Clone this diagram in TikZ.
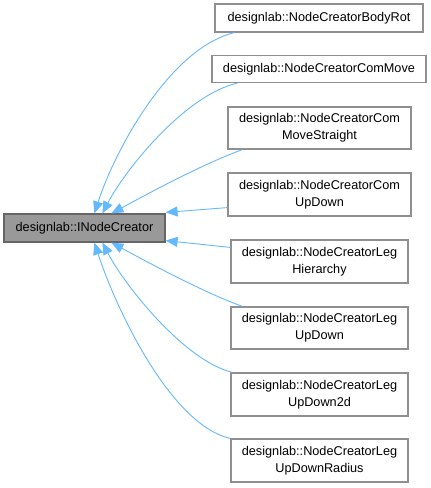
\documentclass[tikz,border=0pt]{standalone}
\usepackage{fontspec}
\setmainfont{Liberation Sans}
\usetikzlibrary{arrows.meta}
\definecolor{edgeblue}{HTML}{63B8FF}
\definecolor{mainfill}{HTML}{999999}
\definecolor{mainborder}{HTML}{666666}
\definecolor{boxborder}{HTML}{8F8F8F}
\tikzset{
  cls/.style={draw=boxborder, fill=white, line width=1.2pt, inner sep=0pt, align=center,
    font=\fontsize{12.7pt}{17pt}\selectfont},
  mainnode/.style={cls, draw=mainborder, fill=mainfill},
  edge/.style={draw=edgeblue, line width=0.9pt, -{Triangle[length=12pt,width=10pt]}}
}
\begin{document}
\begin{tikzpicture}[x=1pt,y=-1pt]
\useasboundingbox (0,0) rectangle (431,488);
\node[mainnode, minimum width=161pt, minimum height=28pt] (base) at (84.5,228) {designlab::INodeCreator};
\node[cls, minimum width=208pt, minimum height=28pt] (n1) at (319,18) {designlab::NodeCreatorBodyRot};
\node[cls, minimum width=214pt, minimum height=27pt] (n2) at (319,69) {designlab::NodeCreatorComMove};
\node[cls, minimum width=183pt, minimum height=42pt] (n3) at (319.5,128) {designlab::NodeCreatorCom\\MoveStraight};
\node[cls, minimum width=183pt, minimum height=43pt] (n4) at (319.5,194.5) {designlab::NodeCreatorCom\\UpDown};
\node[cls, minimum width=177pt, minimum height=43pt] (n5) at (319.5,261.5) {designlab::NodeCreatorLeg\\Hierarchy};
\node[cls, minimum width=177pt, minimum height=42pt] (n6) at (319.5,328) {designlab::NodeCreatorLeg\\UpDown};
\node[cls, minimum width=177pt, minimum height=43pt] (n7) at (319.5,394.5) {designlab::NodeCreatorLeg\\UpDown2d};
\node[cls, minimum width=177pt, minimum height=43pt] (n8) at (319.5,460.5) {designlab::NodeCreatorLeg\\UpDownRadius};

\draw[edge] ([xshift=20pt]n1.south west) .. controls (170,48) and (115,150) .. ([xshift=91pt]base.north west);
\draw[edge] ([xshift=26pt]n2.south west) .. controls (185,95) and (125,170) .. ([xshift=99pt]base.north west);
\draw[edge] ([xshift=15pt]n3.south west) .. controls (200,165) and (140,198) .. ([xshift=108pt]base.north west);
\draw[edge] ([yshift=9pt]n4.south west) -- ([yshift=1pt]base.north east);
\draw[edge] ([yshift=-8pt]n5.north west) -- ([yshift=2pt]base.south east);
\draw[edge] ([xshift=12pt]n6.north west) .. controls (200,291) and (140,258) .. ([xshift=108pt]base.south west);
\draw[edge] ([xshift=2pt]n7.north west) .. controls (185,361) and (125,286) .. ([xshift=99pt]base.south west);
\draw[edge] (n8.north west) .. controls (170,425) and (115,306) .. ([xshift=91pt]base.south west);
\end{tikzpicture}
\end{document}
